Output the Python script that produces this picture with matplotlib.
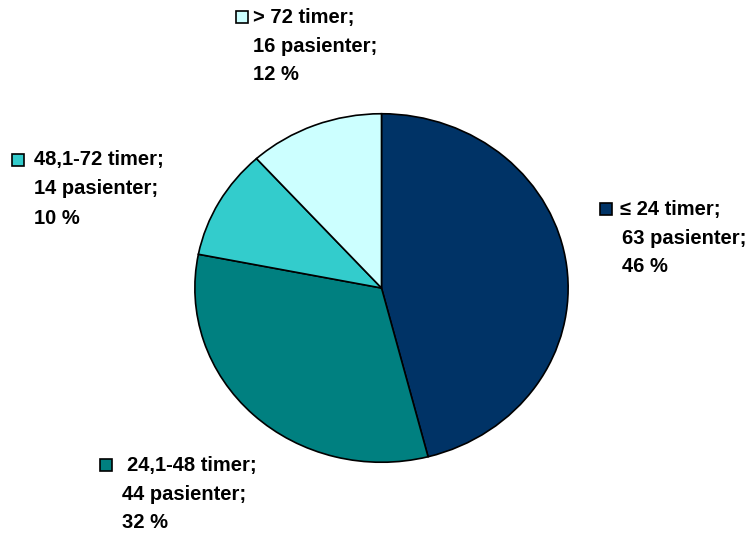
import matplotlib.pyplot as plt
from matplotlib.patches import Rectangle

plt.rcParams['font.family'] = ['Liberation Sans', 'DejaVu Sans']

categories = ["\u2264 24 timer", "24,1-48 timer", "48,1-72 timer", "> 72 timer"]
patients = [63, 44, 14, 16]
percents = [46, 32, 10, 12]
colors = ["#003366", "#008080", "#33CCCC", "#CCFFFF"]

W, H = 754, 536
fig = plt.figure(figsize=(W / 100, H / 100), dpi=100)

# pie bbox in pixels (slightly wider than tall, as in the original)
x0, x1, y0, y1 = 193, 570, 112, 464
ax = fig.add_axes([x0 / W, 1 - y1 / H, (x1 - x0) / W, (y1 - y0) / H])
ax.pie(patients, colors=colors, startangle=90, counterclock=False,
       wedgeprops=dict(edgecolor="black", linewidth=1.2))
ax.set_aspect('auto')
ax.set_xlim(-1.01, 1.01)
ax.set_ylim(-1.01, 1.01)
ax.axis('off')

# label layout: (square x, first line y, text x, second line x)
label_pos = [
    (600, 209, 620, 622),
    (100, 465, 127, 122),
    (12, 160, 34, 34),
    (236, 17, 253, 253),
]
step = 29
for i, (sx, ly, tx, tx2) in enumerate(label_pos):
    fig.patches.append(Rectangle((sx / W, 1 - (ly + 6) / H), 12 / W, 12 / H,
                                 transform=fig.transFigure, facecolor=colors[i],
                                 edgecolor="black", linewidth=1.2))
    lines = [categories[i] + ";", f"{patients[i]} pasienter;", f"{percents[i]} %"]
    for j, t in enumerate(lines):
        x = tx if j == 0 else tx2
        fig.text(x / W, 1 - (ly + j * step) / H, t, fontsize=14.5, fontweight='bold',
                 ha='left', va='center')

fig.savefig("out.png", dpi=100)
